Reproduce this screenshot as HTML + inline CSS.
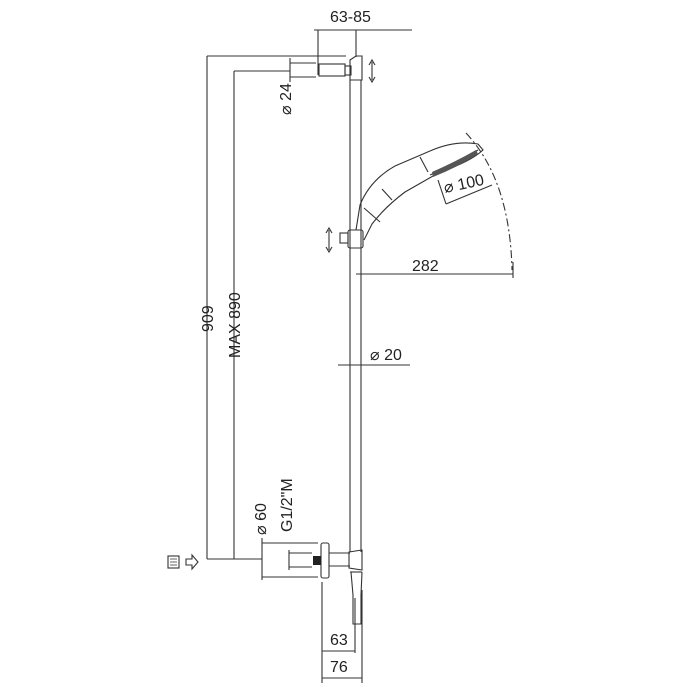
<!DOCTYPE html>
<html><head><style>
html,body{margin:0;padding:0;background:#fff;}
svg{display:block}
text{font-family:"Liberation Sans",sans-serif;fill:#222;font-size:16px}
</style></head><body>
<svg width="683" height="683" viewBox="0 0 683 683" xmlns="http://www.w3.org/2000/svg">
<g stroke="#333" stroke-width="1.1" fill="none">
<line x1="314" y1="30" x2="412" y2="30"/>
<line x1="318" y1="30" x2="318" y2="75"/>
<line x1="356" y1="30" x2="356" y2="57"/>
<line x1="207" y1="56" x2="346" y2="56"/>
<line x1="234" y1="71" x2="290" y2="71"/>
<line x1="290" y1="58" x2="290" y2="82"/>
<line x1="290" y1="63" x2="316" y2="63"/>
<line x1="290" y1="77" x2="316" y2="77"/>
<rect x="319" y="64" width="26" height="12"/>
<rect x="345" y="66" width="6" height="9"/>
<path d="M350 60 L356 56 L362 56 L362 80 L350 80 Z"/>
<line x1="372" y1="62" x2="372" y2="80"/>
<path d="M369 65 L372 60 L375 65 M369 77 L372 82 L375 77"/>
<line x1="350" y1="80" x2="350" y2="552"/>
<line x1="361" y1="80" x2="361" y2="552"/>
<line x1="207" y1="56" x2="207" y2="559"/>
<line x1="234" y1="71" x2="234" y2="559"/>
<line x1="207" y1="559" x2="262" y2="559"/>
<line x1="262" y1="538" x2="262" y2="580"/>
<line x1="262" y1="543" x2="318" y2="543"/>
<line x1="262" y1="577" x2="318" y2="577"/>
<line x1="289" y1="550" x2="289" y2="570"/>
<line x1="289" y1="553" x2="312" y2="553"/>
<line x1="289" y1="567" x2="312" y2="567"/>
<rect x="321" y="543" width="8" height="35" rx="2"/>
<line x1="329" y1="553" x2="350" y2="553"/>
<line x1="329" y1="566" x2="350" y2="566"/>
<path d="M349 552 L362 550 L362 570 L349 568 Z"/>
<line x1="350" y1="572" x2="362" y2="572"/>
<path d="M351 572 L353 595 L353 624 L361 624 L361 595 L362 572"/>
<line x1="322" y1="582" x2="322" y2="683"/>
<line x1="355" y1="598" x2="355" y2="653"/>
<line x1="362" y1="590" x2="362" y2="683"/>
<line x1="322" y1="651" x2="355" y2="651"/>
<line x1="322" y1="678" x2="362" y2="678"/>
<line x1="338" y1="365" x2="410" y2="365"/>
<rect x="348" y="230" width="15" height="18" rx="2"/>
<rect x="340" y="233" width="8" height="10"/>
<line x1="329" y1="230" x2="329" y2="250"/>
<path d="M326 233 L329 228 L332 233 M326 247 L329 252 L332 247"/>
<path d="M356 230 L360 205 Q370 180 395 166 L430 151 Q455 140 478 144 L483 150 Q470 162 440 172 L405 192 Q385 207 372 224 L364 240"/>
<line x1="364" y1="208" x2="380" y2="222"/>
<line x1="382" y1="189" x2="392" y2="200"/>
<line x1="420" y1="157" x2="428" y2="172"/>
<path d="M430 175 Q455 165 478 150"/>
<line x1="438" y1="180" x2="446" y2="204"/>
<line x1="446" y1="204" x2="492" y2="185"/>
<path d="M466 133 Q510 180 512 270" stroke-dasharray="8,3,2,3"/>
<line x1="356" y1="274" x2="513" y2="274"/>
<line x1="513" y1="262" x2="513" y2="278"/>
<rect x="168" y="556" width="11" height="12"/>
<path d="M170 559 L177 559 M170 562 L177 562 M170 565 L177 565" stroke-width="0.8"/>
<path d="M186 559 L192 559 L192 555 L198 562 L192 569 L192 565 L186 565 Z"/>
</g>
<rect x="313" y="556" width="8" height="9" fill="#222"/>
<path d="M432 172 Q455 162 476 150 L478 154 Q456 168 433 177 Z" fill="#555"/>
<text x="330" y="22">63-85</text>
<text x="412" y="271">282</text>
<text x="370" y="360">⌀ 20</text>
<text x="445" y="193" transform="rotate(-12 445 193)">⌀ 100</text>
<text x="330" y="645">63</text>
<text x="330" y="672">76</text>
<text transform="translate(291,115) rotate(-90)">⌀ 24</text>
<text transform="translate(213,332) rotate(-90)">909</text>
<text transform="translate(240,358) rotate(-90)">MAX 890</text>
<text transform="translate(266,535) rotate(-90)">⌀ 60</text>
<text transform="translate(292,532) rotate(-90)">G1/2"M</text>
</svg>
</body></html>
